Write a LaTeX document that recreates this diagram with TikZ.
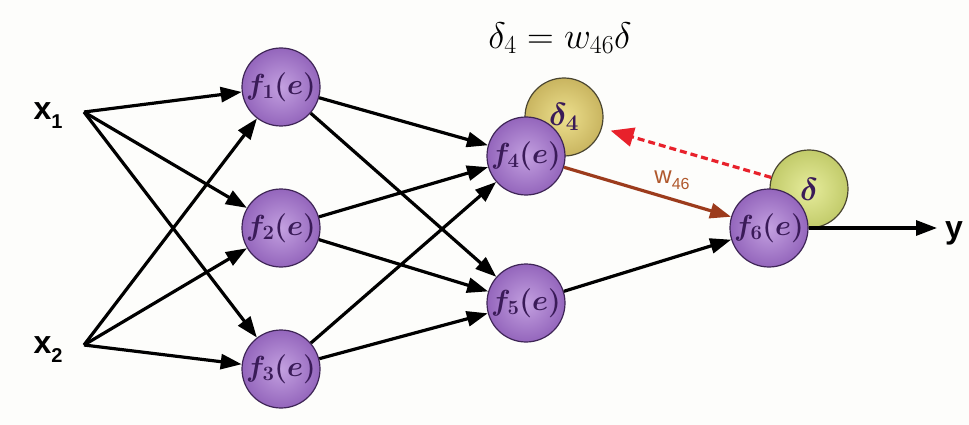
\RequirePackage{fix-cm}
\documentclass[tikz,border=0pt]{standalone}
\usepackage{fontspec}
\usetikzlibrary{arrows.meta}
\newfontfamily\labfont{Liberation Sans}
\definecolor{bgcol}{HTML}{FDFDFB}
\definecolor{purpin}{HTML}{C3A0E0}
\definecolor{purpout}{HTML}{9466BC}
\definecolor{purpedge}{HTML}{3E2556}
\definecolor{purptext}{HTML}{3A1B58}
\definecolor{dfourin}{HTML}{EDE08E}
\definecolor{dfourout}{HTML}{C9B560}
\definecolor{dsixin}{HTML}{E6EC9C}
\definecolor{dsixout}{HTML}{C2CB6A}
\definecolor{dedge}{HTML}{4A4530}
\definecolor{brownarr}{HTML}{9C3B1C}
\definecolor{wlab}{HTML}{B0582C}
\definecolor{redarr}{HTML}{E8212B}
\tikzset{
  neuron/.style={circle, minimum size=78pt, inner sep=0pt, draw=purpedge, line width=1.2pt,
    inner color=purpin, outer color=purpout, text=purptext,
    font=\fontsize{29}{29}\selectfont\boldmath},
  dfour/.style={circle, minimum size=78pt, inner sep=0pt, draw=dedge, line width=1.2pt,
    inner color=dfourin, outer color=dfourout, text=purptext,
    font=\fontsize{32}{32}\selectfont\boldmath},
  dsix/.style={circle, minimum size=78pt, inner sep=0pt, draw=dedge, line width=1.2pt,
    inner color=dsixin, outer color=dsixout, text=purptext,
    font=\fontsize{32}{32}\selectfont\boldmath},
  conn/.style={line width=3.2pt, draw=black, -{Triangle[length=21pt,width=15pt]}},
  inlab/.style={font=\labfont\bfseries\fontsize{32}{32}\selectfont, inner sep=0pt},
}
\begin{document}
\begin{tikzpicture}[x=1pt,y=-1pt]
\useasboundingbox (0,0) rectangle (969,425);
\fill[bgcol] (0,0) rectangle (969,425);

% input labels and start points
\node[inlab, anchor=base] (lx1) at (48,120) {x\raisebox{-9pt}{\fontsize{20}{20}\selectfont 1}};
\node[inlab, anchor=base] (lx2) at (48,353) {x\raisebox{-9pt}{\fontsize{20}{20}\selectfont 2}};
\coordinate (x1) at (84,112);
\coordinate (x2) at (84,345);

% delta circles (behind)
\node[dfour] (d4) at (564,117) {$\delta_4$};
\node[dsix] (d) at (809,189) {$\delta$};

% neurons
\node[neuron] (f1) at (281,87) {$f_1(e)$};
\node[neuron] (f2) at (281,228) {$f_2(e)$};
\node[neuron] (f3) at (281,369) {$f_3(e)$};
\node[neuron] (f4) at (526,156) {$f_4(e)$};
\node[neuron] (f5) at (526,303) {$f_5(e)$};
\node[neuron] (f6) at (769,228) {$f_6(e)$};

% output
\coordinate (yout) at (937,228);
\node[font=\labfont\bfseries\fontsize{32}{32}\selectfont, anchor=base, inner sep=0pt] (ylab) at (954,238) {y};

% connections
\foreach \s in {x1,x2}
  \foreach \t in {f1,f2,f3}
    \draw[conn] (\s) -- (\t);
\foreach \s in {f1,f2,f3}
  \foreach \t in {f4,f5}
    \draw[conn] (\s) -- (\t);
\draw[conn] (f5) -- (f6);
\draw[conn] (f6.east) -- (yout);
\draw[line width=3.2pt, brownarr, -{Triangle[length=21pt,width=15pt]}] (f4) -- (f6);
\draw[line width=3.2pt, redarr, dash pattern=on 7pt off 4pt, -{Triangle[length=23pt,width=19pt]}, shorten >=9pt] (d.163) -- (d4);

% labels
\node[text=wlab, font=\labfont\fontsize{24}{24}\selectfont, inner sep=0pt] (w46) at (672,180) {w\raisebox{-6pt}{\fontsize{16}{16}\selectfont 46}};
\node[font=\fontsize{37}{37}\selectfont, inner sep=0pt] (formula) at (560,38) {$\delta_4 = w_{46}\delta$};
\end{tikzpicture}
\end{document}
